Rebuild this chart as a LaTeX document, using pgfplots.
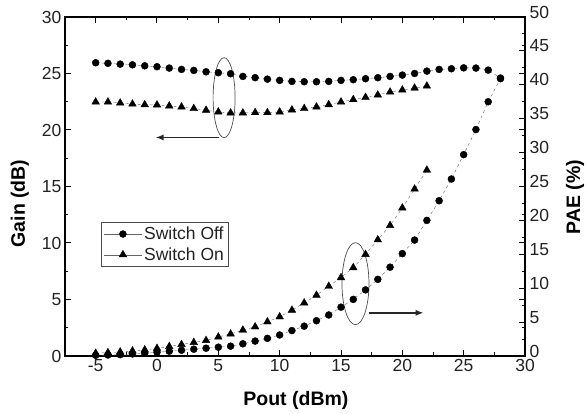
\documentclass[border=0pt]{standalone}
\usepackage{fontspec}
\setmainfont{Liberation Sans}
\usepackage{pgfplots}
\usepackage{pgfplotstable}
\usetikzlibrary{arrows.meta}
\pgfplotsset{compat=1.18}
\definecolor{lc}{HTML}{666666}
\definecolor{tx}{HTML}{222222}

\pgfplotstableread{
x gain
-5 25.95
-4 25.90
-3 25.83
-2 25.77
-1 25.68
0 25.60
1 25.48
2 25.36
3 25.27
4 25.15
5 25.07
6 24.98
7 24.74
8 24.63
9 24.50
10 24.39
11 24.30
12 24.27
13 24.27
14 24.30
15 24.39
16 24.45
17 24.54
18 24.63
19 24.74
20 24.86
21 25.00
22 25.21
23 25.36
24 25.42
25 25.50
26 25.48
27 25.30
28 24.60
}\gainoff

\pgfplotstableread{
x gain
-5 22.48
-4 22.48
-3 22.39
-2 22.30
-1 22.24
0 22.22
1 22.13
2 22.04
3 21.90
4 21.75
5 21.60
6 21.51
7 21.51
8 21.54
9 21.54
10 21.60
11 21.78
12 21.90
13 22.04
14 22.24
15 22.48
16 22.69
17 22.89
18 23.10
19 23.36
20 23.54
21 23.71
22 23.89
}\gainon

\pgfplotstableread{
x pae
-5 0.10
-4 0.15
-3 0.20
-2 0.30
-1 0.40
0 0.55
1 0.70
2 0.85
3 1.00
4 1.15
5 1.30
6 1.45
7 1.80
8 2.20
9 2.60
10 3.10
11 3.75
12 4.40
13 5.20
14 6.05
15 7.20
16 8.35
17 9.75
18 11.30
19 13.10
20 15.10
21 17.10
22 20.00
23 22.90
24 26.10
25 29.70
26 33.40
27 37.50
28 40.90
}\paeoff

\pgfplotstableread{
x pae
-5 0.40
-4 0.50
-3 0.60
-2 0.75
-1 0.90
0 1.13
1 1.40
2 1.70
3 2.00
4 2.30
5 2.80
6 3.25
7 3.82
8 4.30
9 5.04
10 5.78
11 6.76
12 7.83
13 8.96
14 10.28
15 11.56
16 13.03
17 14.99
18 17.14
19 19.25
20 21.84
21 24.63
22 27.42
}\paeon

\begin{document}
\begin{tikzpicture}
\pgfplotsset{
  every axis/.append style={
    scale only axis, width=460pt, height=339pt,
    at={(0,0)}, anchor=south west,
    xmin=-7.5, xmax=30,
    axis line style={line width=1.2pt, black},
    tick style={line width=1pt, black},
    tick align=inside,
    major tick length=6pt, minor tick length=3.5pt,
    tick label style={font=\fontsize{17.5}{18}\selectfont, text=tx},
    label style={font=\bfseries\fontsize{19.5}{21}\selectfont, text=black},
    /pgf/number format/assume math mode=true,
  },
}
\begin{axis}[
  ymin=0, ymax=30,
  xtick={-5,0,...,30}, minor x tick num=1,
  ytick={0,5,...,30}, minor y tick num=1,
  xtick pos=both, ytick pos=both,
  xlabel={Pout (dBm)},
  ylabel={Gain (dB)},
  xlabel style={at={(axis description cs:0.502,-0.13)}, anchor=center},
  ylabel style={at={(axis description cs:-0.098,0.45)}, anchor=center},
  legend style={at={(axis description cs:0.078,0.395)}, anchor=north west,
    draw=black!70, line width=0.7pt, font=\fontsize{17.5}{19}\selectfont,
    row sep=2.5pt, inner sep=2.5pt, text=tx},
  legend cell align=left,
  legend image code/.code={\draw[mark repeat=2, mark phase=2, #1, solid]
    plot coordinates {(0pt,0pt) (19pt,0pt) (38pt,0pt)};},
]
\addplot[lc, thin, dashed, mark=*, mark size=3.5pt,
  mark options={solid, fill=black, draw=black}] table[x=x,y=gain]{\gainoff};
\addlegendentry{Switch Off}
\addplot[lc, thin, dashed, mark=triangle*, mark size=4.4pt,
  mark options={solid, fill=black, draw=black}] table[x=x,y=gain]{\gainon};
\addlegendentry{Switch On}

\draw[black!70, line width=0.7pt] (axis cs:5.47,22.86) ellipse [x radius=11pt, y radius=40pt];
\draw[black!70, line width=0.7pt] (axis cs:16.18,6.4) ellipse [x radius=13.5pt, y radius=41pt];
\draw[-{Latex[length=8pt,width=6pt]}, line width=1.5pt, black!85] (axis cs:5.08,19.34) -- (axis cs:-0.12,19.34);
\draw[-{Latex[length=8pt,width=6pt]}, line width=1.5pt, black!85] (axis cs:17.25,3.82) -- (axis cs:21.74,3.82);
\end{axis}

\begin{axis}[
  ymin=0, ymax=50,
  axis x line=none,
  axis y line*=right,
  ytick={0,5,...,50}, minor y tick num=1,
  yticklabel style={yshift=5pt, xshift=1pt},
  ylabel={PAE (\%)},
  ylabel style={at={(axis description cs:1.109,0.469)}, anchor=center},
]
\addplot[lc, thin, dashed, mark=*, mark size=3.5pt,
  mark options={solid, fill=black, draw=black}] table[x=x,y=pae]{\paeoff};
\addplot[lc, thin, dashed, mark=triangle*, mark size=4.4pt,
  mark options={solid, fill=black, draw=black}] table[x=x,y=pae]{\paeon};
\end{axis}
\pgfresetboundingbox
\path[use as bounding box] (-65pt,-58pt) rectangle (522pt,356pt);
\end{tikzpicture}
\end{document}
